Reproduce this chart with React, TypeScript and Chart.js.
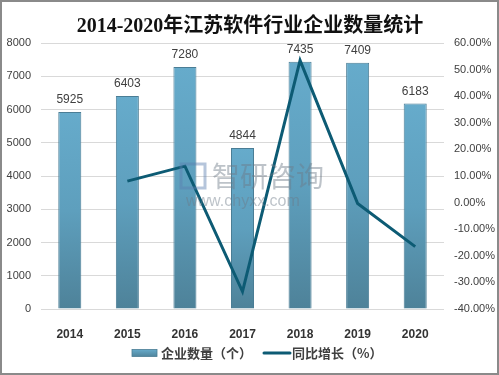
import React, { useEffect, useRef } from "react";
import { Chart, registerables } from "chart.js";

Chart.register(...registerables);

const titleText = "2014-2020年江苏软件行业企业数量统计";
const years = ["2014", "2015", "2016", "2017", "2018", "2019", "2020"];
const companyCounts = [5925, 6403, 7280, 4844, 7435, 7409, 6183];
const yoyGrowth = [null, 8.07, 13.7, -33.46, 53.49, -0.35, -16.55];
const barLabel = "企业数量（个）";
const lineLabel = "同比增长（%）";
const watermarkMain = "智研咨询";
const watermarkSub = "www.chyxx.com";

const W = 499;
const H = 375;

const decorPlugin = {
  id: "decor",
  beforeDraw(chart: any) {
    const { ctx } = chart;
    ctx.save();
    ctx.fillStyle = "#ffffff";
    ctx.fillRect(0, 0, W, H);
    ctx.restore();
  },
  afterDatasetsDraw(chart: any) {
    const { ctx } = chart;
    const meta = chart.getDatasetMeta(0);
    ctx.save();
    ctx.font = "12px 'Liberation Sans', Arial, sans-serif";
    ctx.fillStyle = "#404040";
    ctx.textAlign = "center";
    ctx.textBaseline = "bottom";
    meta.data.forEach((bar: any, i: number) => {
      ctx.fillText(String(companyCounts[i]), bar.x, bar.y - 6);
    });
    ctx.restore();
  },
  afterDraw(chart: any) {
    const { ctx } = chart;
    ctx.save();
    // watermark
    ctx.globalAlpha = 0.45;
    ctx.fillStyle = "#6d7a88";
    ctx.font = "28px 'Noto Sans CJK SC', sans-serif";
    ctx.textAlign = "left";
    ctx.textBaseline = "middle";
    ctx.fillText(watermarkMain, 212, 176);
    ctx.font = "16px 'Liberation Sans', Arial, sans-serif";
    ctx.fillText(watermarkSub, 186, 202);
    ctx.strokeStyle = "#5b7fb0";
    ctx.lineWidth = 3;
    ctx.strokeRect(181, 164, 24, 24);
    ctx.globalAlpha = 1;

    // title
    ctx.fillStyle = "#111111";
    ctx.font = "bold 20px 'Liberation Serif', 'Noto Sans CJK SC', serif";
    ctx.textAlign = "center";
    ctx.textBaseline = "middle";
    ctx.fillText(titleText, 250, 27);

    // legend
    const ly = 353;
    const grad = ctx.createLinearGradient(0, ly - 4, 0, ly + 4);
    grad.addColorStop(0, "#68adcd");
    grad.addColorStop(1, "#4e8299");
    ctx.fillStyle = grad;
    ctx.fillRect(132, ly - 3.5, 25, 7);
    ctx.strokeStyle = "#4a7d95";
    ctx.lineWidth = 0.8;
    ctx.strokeRect(132, ly - 3.5, 25, 7);
    ctx.fillStyle = "#404040";
    ctx.font = "bold 13px 'Noto Sans CJK SC', sans-serif";
    ctx.textAlign = "left";
    ctx.fillText(barLabel, 161, ly);
    ctx.strokeStyle = "#0d5b74";
    ctx.lineWidth = 3;
    ctx.lineCap = "round";
    ctx.beginPath();
    ctx.moveTo(264, ly);
    ctx.lineTo(290, ly);
    ctx.stroke();
    ctx.fillText(lineLabel, 292, ly);

    // frame
    ctx.strokeStyle = "#8a8a8a";
    ctx.lineWidth = 2;
    ctx.strokeRect(1, 1, W - 2, H - 2);
    ctx.restore();
  },
};

export default function App() {
  const ref = useRef<HTMLCanvasElement | null>(null);

  useEffect(() => {
    if (!ref.current) return;
    const chart = new Chart(ref.current, {
      type: "bar",
      data: {
        labels: years,
        datasets: [
          {
            type: "bar",
            label: barLabel,
            data: companyCounts,
            yAxisID: "y",
            order: 2,
            barPercentage: 0.4,
            categoryPercentage: 1,
            borderWidth: 1,
            borderColor: "#4a7d95",
            backgroundColor: (c: any) => {
              const chartObj = c.chart;
              const y = chartObj.scales && chartObj.scales.y;
              if (!y || c.dataIndex === undefined) return "#5fa2c2";
              const top = y.getPixelForValue(companyCounts[c.dataIndex]);
              const bottom = y.getPixelForValue(0);
              if (!isFinite(top) || !isFinite(bottom)) return "#5fa2c2";
              const g = chartObj.ctx.createLinearGradient(0, top, 0, bottom);
              g.addColorStop(0, "#66abcb");
              g.addColorStop(0.5, "#5e9fbd");
              g.addColorStop(1, "#4e8299");
              return g;
            },
          } as any,
          {
            type: "line",
            label: lineLabel,
            data: yoyGrowth,
            yAxisID: "y1",
            order: 1,
            borderColor: "#0d5b74",
            borderWidth: 3,
            pointRadius: 0,
            tension: 0,
            spanGaps: false,
          } as any,
        ],
      },
      options: {
        responsive: false,
        animation: false,
        layout: { padding: { top: 43, bottom: 0, left: 0, right: 0 } },
        plugins: {
          legend: { display: false },
          tooltip: { enabled: false },
          title: { display: false },
        },
        scales: {
          x: {
            grid: { display: false },
            border: { display: false },
            ticks: {
              color: "#333333",
              font: { size: 12, weight: "bold", family: "'Liberation Sans', Arial, sans-serif" },
              padding: 10,
            },
            afterFit: (s: any) => {
              s.height = 66;
            },
          },
          y: {
            position: "left",
            min: 0,
            max: 8000,
            ticks: {
              stepSize: 1000,
              color: "#404040",
              font: { size: 11, family: "'Liberation Sans', Arial, sans-serif" },
              padding: 10,
              callback: (v: any) => String(v),
            },
            grid: { color: "#d9d9d9", drawTicks: false },
            border: { display: false },
            afterFit: (s: any) => {
              s.width = 41;
            },
          },
          y1: {
            position: "right",
            min: -40,
            max: 60,
            ticks: {
              stepSize: 10,
              color: "#404040",
              font: { size: 11, family: "'Liberation Sans', Arial, sans-serif" },
              padding: 10,
              callback: (v: any) => Number(v).toFixed(2) + "%",
            },
            grid: { display: false, drawTicks: false },
            border: { display: false },
            afterFit: (s: any) => {
              s.width = 55;
            },
          },
        },
      },
      plugins: [decorPlugin],
    });
    return () => chart.destroy();
  }, []);

  return (
    <div style={{ position: "absolute", left: 0, top: 0, width: W, height: H, background: "#fff" }}>
      <canvas ref={ref} width={W} height={H} style={{ display: "block", width: W, height: H }} />
    </div>
  );
}
